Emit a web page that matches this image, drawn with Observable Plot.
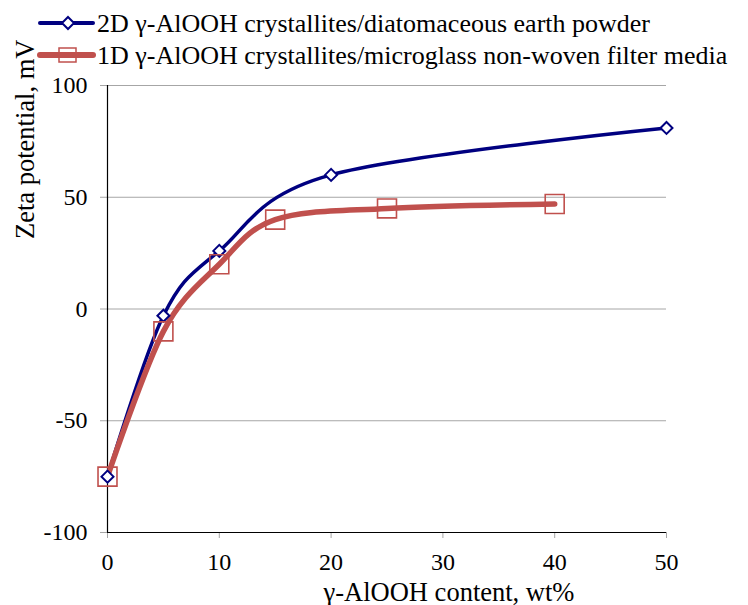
<!DOCTYPE html>
<html>
<head>
<meta charset="utf-8">
<style>
@font-face { font-family: "ChartSerif"; src: local("Liberation Serif"), local("LiberationSerif"), local("LiberationSerif-Regular"); }
</style>
<script src="https://cdn.jsdelivr.net/npm/d3@7"></script>
<script src="https://cdn.jsdelivr.net/npm/@observablehq/plot@0.6"></script>
</head>
<body style="margin:0;padding:0;background:#fff">
<div id="chart" style="width:748px"></div>
<script>
// ---- data ----
const series1Name = "2D γ-AlOOH crystallites/diatomaceous earth powder";
const series1X = [0, 5, 10, 20, 50];
const series1Y = [-75, -3, 26, 60, 81];

const series2Name = "1D γ-AlOOH crystallites/microglass non-woven filter media";
const series2X = [0, 5, 10, 15, 25, 40];
const series2Y = [-75, -10, 20, 40, 45, 47];

const xTicks = [0, 10, 20, 30, 40, 50];
const yTicks = [-100, -50, 0, 50, 100];
const xLabel = "γ-AlOOH content, wt%";
const yLabel = "Zeta potential, mV";

const blue = "#000080";
const red = "#C0504D";
const grid = "#a6a6a6";
const FONT = "Liberation Serif, ChartSerif, Tinos, Times New Roman, serif";

const s1 = series1X.map((x, i) => ({x, y: series1Y[i]}));
const s2 = series2X.map((x, i) => ({x, y: series2Y[i]}));

function render() {
  const chart = Plot.plot({
    width: 748,
    height: 605,
    marginTop: 85,
    marginBottom: 73,
    marginLeft: 107,
    marginRight: 82,
    style: { fontFamily: FONT, fontSize: "24px", background: "#fff", color: "#000" },
    x: { domain: [0, 50] },
    y: { domain: [-100, 100] },
    marks: [
      Plot.ruleY(yTicks.filter(d => d > -100), { stroke: grid, strokeWidth: 1 }),
      Plot.axisX({ ticks: xTicks, tickSize: 6, tickPadding: 14, stroke: grid, fill: "#000", label: null, fontSize: 24, fontFamily: FONT, tickFormat: d => String(d) }),
      Plot.axisY({ ticks: yTicks, tickSize: 7, tickPadding: 13, stroke: grid, fill: "#000", label: null, fontSize: 24, fontFamily: FONT, tickFormat: d => String(d) }),
      Plot.ruleX([0], { stroke: "#000", strokeWidth: 1.2 }),
      Plot.ruleY([-100], { stroke: "#000", strokeWidth: 1.2 }),
      Plot.line(s1, { x: "x", y: "y", stroke: blue, strokeWidth: 3.5, curve: "cardinal", strokeLinecap: "round" }),
      Plot.line(s2, { x: "x", y: "y", stroke: red, strokeWidth: 5.5, curve: "cardinal", strokeLinecap: "round" }),
      Plot.dot(s1, { x: "x", y: "y", symbol: "diamond2", r: 5.4, fill: "#fff", stroke: blue, strokeWidth: 2 }),
      Plot.dot(s2, { x: "x", y: "y", symbol: "square", r: 10.7, fill: "none", stroke: red, strokeWidth: 1.6 }),
      Plot.text([xLabel], { frameAnchor: "bottom", lineAnchor: "bottom", dx: 62, dy: 68, text: d => d, fontSize: 26.5, fontFamily: FONT, fill: "#000" }),
      Plot.text([yLabel], { frameAnchor: "left", lineAnchor: "bottom", dx: -74, dy: -70, rotate: -90, text: d => d, fontSize: 26.5, fontFamily: FONT, fill: "#000" })
    ]
  });

  // legend, drawn in the top margin of the same SVG
  const svg = d3.select(chart);
  const lg = svg.append("g").attr("text-anchor", "start");
  const rows = [
    {name: series1Name, color: blue, width: 4, kind: "diamond", cy: 23},
    {name: series2Name, color: red, width: 6, kind: "square", cy: 55}
  ];
  for (const r of rows) {
    lg.append("line").attr("x1", 40).attr("x2", 93).attr("y1", r.cy).attr("y2", r.cy)
      .attr("stroke", r.color).attr("stroke-width", r.width).attr("stroke-linecap", "round");
    if (r.kind === "diamond") {
      lg.append("path").attr("d", `M68,${r.cy - 6} L74,${r.cy} L68,${r.cy + 6} L62,${r.cy} Z`)
        .attr("fill", "#fff").attr("stroke", blue).attr("stroke-width", 2);
    } else {
      lg.append("rect").attr("x", 59).attr("y", r.cy - 7).attr("width", 17).attr("height", 14)
        .attr("fill", "none").attr("stroke", red).attr("stroke-width", 1.5);
    }
    lg.append("text").attr("x", 97).attr("y", r.cy + 8.5).attr("text-anchor", "start")
      .attr("font-family", FONT).attr("font-size", 26).attr("fill", "#000").text(r.name);
  }
  const host = document.getElementById("chart");
  host.replaceChildren(chart);
}

render();
if (document.fonts && document.fonts.load) {
  Promise.all([
    document.fonts.load("26px ChartSerif"),
    document.fonts.load("26px 'Liberation Serif'")
  ]).then(render, render);
  document.fonts.ready.then(render);
}
setTimeout(render, 50);
</script>
</body>
</html>
